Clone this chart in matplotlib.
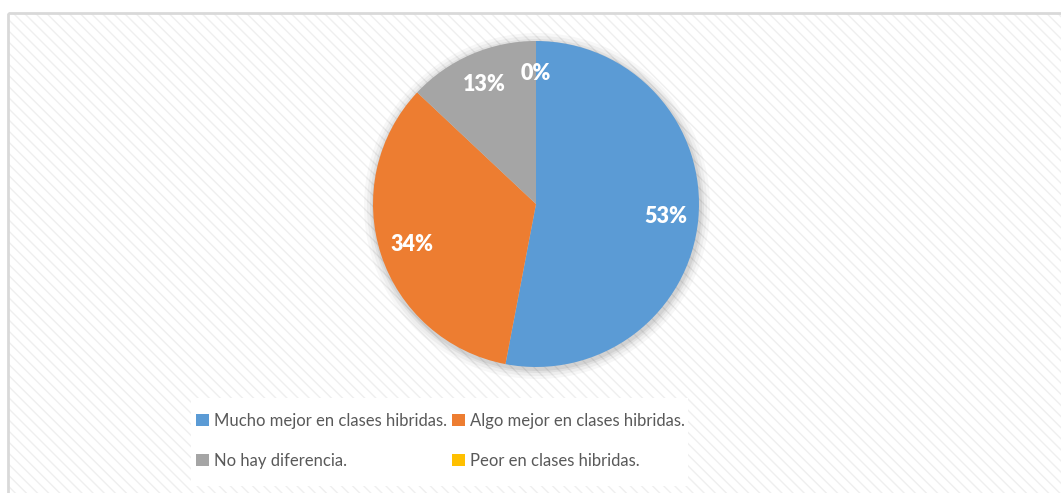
import matplotlib
matplotlib.use("Agg")
import matplotlib.pyplot as plt
from matplotlib.patches import Rectangle, Circle

categories = ["Mucho mejor en clases hibridas.", "Algo mejor en clases hibridas.",
              "No hay diferencia.", "Peor en clases hibridas."]
values = [53, 34, 13, 0]
colors = ["#5b9bd5", "#ed7d31", "#a5a5a5", "#ffc000"]

W, H = 1061, 493
fig = plt.figure(figsize=(W / 100, H / 100), dpi=100)
fig.patch.set_facecolor("white")

# background panel (pixel coordinates)
bg = fig.add_axes([0, 0, 1, 1])
bg.set_xlim(0, W)
bg.set_ylim(H, 0)
bg.axis("off")
bg.add_patch(Rectangle((8, 13), W + 20, H + 20, facecolor="white",
                       edgecolor="#efefef", hatch="\\\\\\", lw=0, zorder=1))
bg.add_patch(Rectangle((8, 13), W + 20, H + 20, facecolor="none",
                       edgecolor="#d9d9d9", lw=2, zorder=2))
# soft shadow around the pie
cx, cy, r = 536, 204, 163
for k, a in [(10, 0.03), (7, 0.04), (4, 0.05), (2, 0.06)]:
    bg.add_patch(Circle((cx + 1, cy + 2), r + k, facecolor="black",
                        edgecolor="none", alpha=a, zorder=3))
# legend white area
bg.add_patch(Rectangle((191, 398), 497, 88, facecolor="white",
                       edgecolor="none", zorder=3))

ax = fig.add_axes([(cx - r) / W, (H - cy - r) / H, 2 * r / W, 2 * r / H])
wedges, texts, autotexts = ax.pie(
    values, colors=colors, startangle=90, counterclock=False,
    autopct=lambda p: f"{p:.0f}%", pctdistance=0.8,
    wedgeprops=dict(linewidth=0), radius=1.0,
    textprops=dict(color="white", fontsize=15.5, fontweight="heavy",
                   family=["Lato", "DejaVu Sans"]))
ax.set_xlim(-1, 1)
ax.set_ylim(-1, 1)
ax.set_aspect("equal")
ax.axis("off")

# row-wise legend order
order = [0, 2, 1, 3]
leg = fig.legend([wedges[i] for i in order], [categories[i] for i in order],
                 ncol=2, loc="upper left",
                 bbox_to_anchor=(184 / W, 1 - 401 / H),
                 frameon=False, handlelength=0.8, handleheight=0.8,
                 handletextpad=0.3, columnspacing=0.3, labelspacing=1.45,
                 borderpad=0.2,
                 prop=dict(family=["Lato", "DejaVu Sans"], size=12))
for t in leg.get_texts():
    t.set_color("#595959")

fig.savefig("out.png", dpi=100)
